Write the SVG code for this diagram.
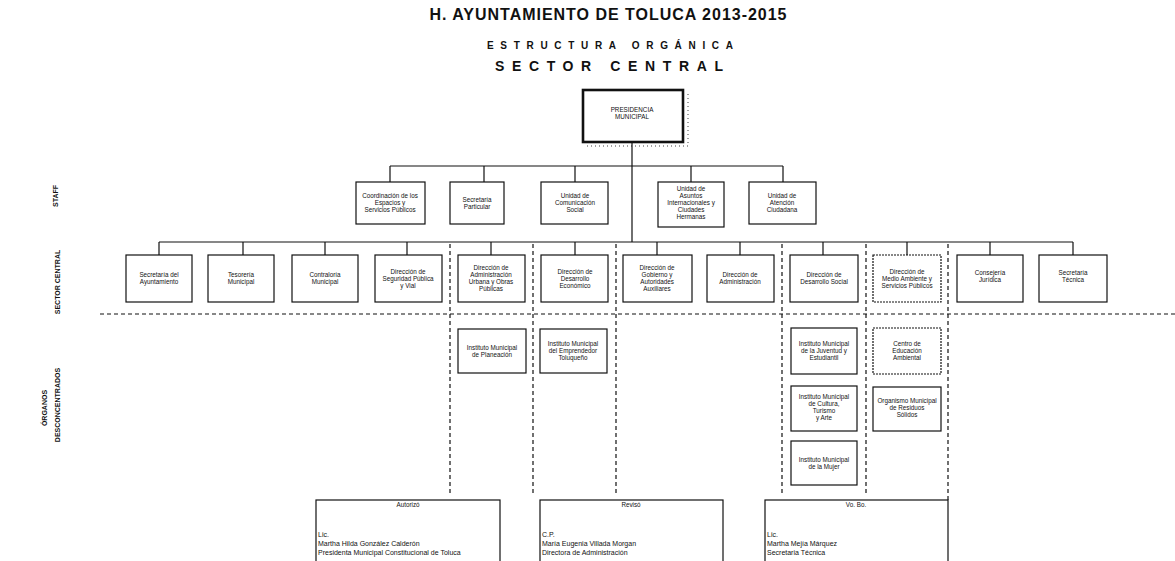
<svg xmlns="http://www.w3.org/2000/svg" width="1175" height="561" viewBox="0 0 1175 561">
<style>
text{font-family:"Liberation Sans",Arial,sans-serif;fill:#111}
.t{font-size:6.3px;text-anchor:middle}
.h{font-weight:bold;text-anchor:middle}
.lbl{font-size:7px;font-weight:bold;text-anchor:middle}
.sig{font-size:7px}
.box{fill:#fff;stroke:#111;stroke-width:1.2}
.dot{fill:#fff;stroke:#111;stroke-width:1.2;stroke-dasharray:2,1}
.ln{stroke:#111;stroke-width:1.2;fill:none}
.dl{stroke:#111;stroke-width:1.2;fill:none;stroke-dasharray:4,3}
</style>
<rect width="1175" height="561" fill="#fff"/>
<g id="titles">
<text class="h" x="608" y="20" font-size="16" textLength="357" lengthAdjust="spacing">H. AYUNTAMIENTO DE TOLUCA 2013-2015</text>
<text class="h" x="610" y="49" font-size="10" textLength="246" lengthAdjust="spacing">ESTRUCTURA   ORGÁNICA</text>
<text class="h" x="609" y="71" font-size="14" textLength="228" lengthAdjust="spacing">SECTOR   CENTRAL</text>
</g>
<g id="side-labels">
<text class="lbl" transform="rotate(-90 58 196)" x="58" y="196">STAFF</text>
<text class="lbl" transform="rotate(-90 60 282)" x="60" y="282">SECTOR CENTRAL</text>
<text class="lbl" transform="rotate(-90 47 408)" x="47" y="408">ÓRGANOS</text>
<text class="lbl" transform="rotate(-90 60 405)" x="60" y="405">DESCONCENTRADOS</text>
</g>
<g id="connectors">
<path class="ln" d="M632 142V242M390 166H783M390 166V182M484 166V182M575 166V182M691 166V182M783 166V182"/>
<path class="ln" d="M159 242H1073M159 242V255M243 242V255M325 242V255M407 242V255M491 242V255M575 242V255M657 242V255M740 242V255M823 242V255M907 242V255M990 242V255M1073 242V255"/>
<path class="dl" d="M100 314H1175"/>
<path class="dl" d="M450 244V493M533 244V493M616 244V493M782 244V494M866 244V494M948 244V500"/>
</g>
<g id="presidencia">
<rect x="583" y="90" width="100" height="52" fill="#fff" stroke="#111" stroke-width="2.6"/>
<path d="M688 94V146M587 146H688" stroke="#111" stroke-width="0.8" stroke-dasharray="1,3" fill="none"/>
<text class="t" font-size="5.8" x="632" y="112">PRESIDENCIA</text>
<text class="t" font-size="5.8" x="632" y="119">MUNICIPAL</text>
</g>
<g id="staff-1"><rect class="box" x="356" y="182" width="69" height="42"/><text class="t" x="390" y="198">Coordinación de los</text><text class="t" x="390" y="205">Espacios y</text><text class="t" x="390" y="212">Servicios Públicos</text></g>
<g id="staff-2"><rect class="box" x="450" y="182" width="54" height="42"/><text class="t" x="477" y="201.5">Secretaría</text><text class="t" x="477" y="208.5">Particular</text></g>
<g id="staff-3"><rect class="box" x="541" y="182" width="67" height="42"/><text class="t" x="575" y="198">Unidad de</text><text class="t" x="575" y="205">Comunicación</text><text class="t" x="575" y="212">Social</text></g>
<g id="staff-4"><rect class="box" x="658" y="182" width="66" height="45"/><text class="t" x="691" y="191">Unidad de</text><text class="t" x="691" y="198">Asuntos</text><text class="t" x="691" y="205">Internacionales y</text><text class="t" x="691" y="212">Ciudades</text><text class="t" x="691" y="219">Hermanas</text></g>
<g id="staff-5"><rect class="box" x="749" y="182" width="67" height="42"/><text class="t" x="782" y="198">Unidad de</text><text class="t" x="782" y="205">Atención</text><text class="t" x="782" y="212">Ciudadana</text></g>
<g id="sc-1"><rect class="box" x="126" y="255" width="66" height="47"/><text class="t" x="159" y="277">Secretaría del</text><text class="t" x="159" y="284">Ayuntamiento</text></g>
<g id="sc-2"><rect class="box" x="208" y="255" width="66" height="47"/><text class="t" x="241" y="277">Tesorería</text><text class="t" x="241" y="284">Municipal</text></g>
<g id="sc-3"><rect class="box" x="292" y="255" width="66" height="47"/><text class="t" x="325" y="277">Contraloría</text><text class="t" x="325" y="284">Municipal</text></g>
<g id="sc-4"><rect class="box" x="375" y="255" width="67" height="47"/><text class="t" x="408" y="273.5">Dirección de</text><text class="t" x="408" y="280.5">Seguridad Pública</text><text class="t" x="408" y="287.5">y Vial</text></g>
<g id="sc-5"><rect class="box" x="458" y="255" width="67" height="47"/><text class="t" x="491" y="270">Dirección de</text><text class="t" x="491" y="277">Administración</text><text class="t" x="491" y="284">Urbana y Obras</text><text class="t" x="491" y="291">Públicas</text></g>
<g id="sc-6"><rect class="box" x="541" y="255" width="67" height="47"/><text class="t" x="575" y="273.5">Dirección de</text><text class="t" x="575" y="280.5">Desarrollo</text><text class="t" x="575" y="287.5">Económico</text></g>
<g id="sc-7"><rect class="box" x="623" y="255" width="69" height="47"/><text class="t" x="657" y="270">Dirección de</text><text class="t" x="657" y="277">Gobierno y</text><text class="t" x="657" y="284">Autoridades</text><text class="t" x="657" y="291">Auxiliares</text></g>
<g id="sc-8"><rect class="box" x="707" y="255" width="67" height="47"/><text class="t" x="740" y="277">Dirección de</text><text class="t" x="740" y="284">Administración</text></g>
<g id="sc-9"><rect class="box" x="790" y="255" width="68" height="47"/><text class="t" x="824" y="277">Dirección de</text><text class="t" x="824" y="284">Desarrollo Social</text></g>
<g id="sc-10"><rect class="dot" x="873" y="255" width="68" height="47"/><text class="t" x="907" y="273.5">Dirección de</text><text class="t" x="907" y="280.5">Medio Ambiente y</text><text class="t" x="907" y="287.5">Servicios Públicos</text></g>
<g id="sc-11"><rect class="box" x="957" y="255" width="66" height="47"/><text class="t" x="990" y="275">Consejería</text><text class="t" x="990" y="282">Jurídica</text></g>
<g id="sc-12"><rect class="box" x="1039" y="255" width="68" height="47"/><text class="t" x="1073" y="275">Secretaría</text><text class="t" x="1073" y="282">Técnica</text></g>
<g id="od-1"><rect class="box" x="458" y="329" width="68" height="44"/><text class="t" x="492" y="349.5">Instituto Municipal</text><text class="t" x="492" y="356.5">de Planeación</text></g>
<g id="od-2"><rect class="box" x="540" y="329" width="67" height="44"/><text class="t" x="573" y="346">Instituto Municipal</text><text class="t" x="573" y="353">del Emprendedor</text><text class="t" x="573" y="360">Toluqueño</text></g>
<g id="od-3"><rect class="box" x="791" y="328" width="66" height="46"/><text class="t" x="824" y="346">Instituto Municipal</text><text class="t" x="824" y="353">de la Juventud y</text><text class="t" x="824" y="360">Estudiantil</text></g>
<g id="od-4"><rect class="dot" x="873" y="328" width="68" height="46"/><text class="t" x="907" y="346">Centro de</text><text class="t" x="907" y="353">Educación</text><text class="t" x="907" y="360">Ambiental</text></g>
<g id="od-5"><rect class="box" x="791" y="386" width="66" height="45"/><text class="t" x="824" y="398.5">Instituto Municipal</text><text class="t" x="824" y="405.5">de Cultura,</text><text class="t" x="824" y="412.5">Turismo</text><text class="t" x="824" y="419.5">y Arte</text></g>
<g id="od-6"><rect class="box" x="873" y="387" width="68" height="44"/><text class="t" x="907" y="403">Organismo Municipal</text><text class="t" x="907" y="410">de Residuos</text><text class="t" x="907" y="417">Sólidos</text></g>
<g id="od-7"><rect class="box" x="791" y="441" width="66" height="44"/><text class="t" x="824" y="461.5">Instituto Municipal</text><text class="t" x="824" y="468.5">de la Mujer</text></g>
<g id="sign-1"><rect class="box" x="316" y="500" width="184" height="80"/><text class="t" x="408" y="507">Autorizó</text><text class="sig" x="318" y="537">Lic.</text><text class="sig" x="318" y="546">Martha Hilda González Calderón</text><text class="sig" x="318" y="555">Presidenta Municipal Constitucional de Toluca</text></g>
<g id="sign-2"><rect class="box" x="540" y="500" width="183" height="80"/><text class="t" x="631" y="507">Revisó</text><text class="sig" x="542" y="537">C.P.</text><text class="sig" x="542" y="546">María Eugenia Villada Morgan</text><text class="sig" x="542" y="555">Directora de Administración</text></g>
<g id="sign-3"><rect class="box" x="765" y="500" width="183" height="80"/><text class="t" x="856" y="507">Vo. Bo.</text><text class="sig" x="767" y="537">Lic.</text><text class="sig" x="767" y="546">Martha Mejía Márquez</text><text class="sig" x="767" y="555">Secretaria Técnica</text></g>
</svg>
